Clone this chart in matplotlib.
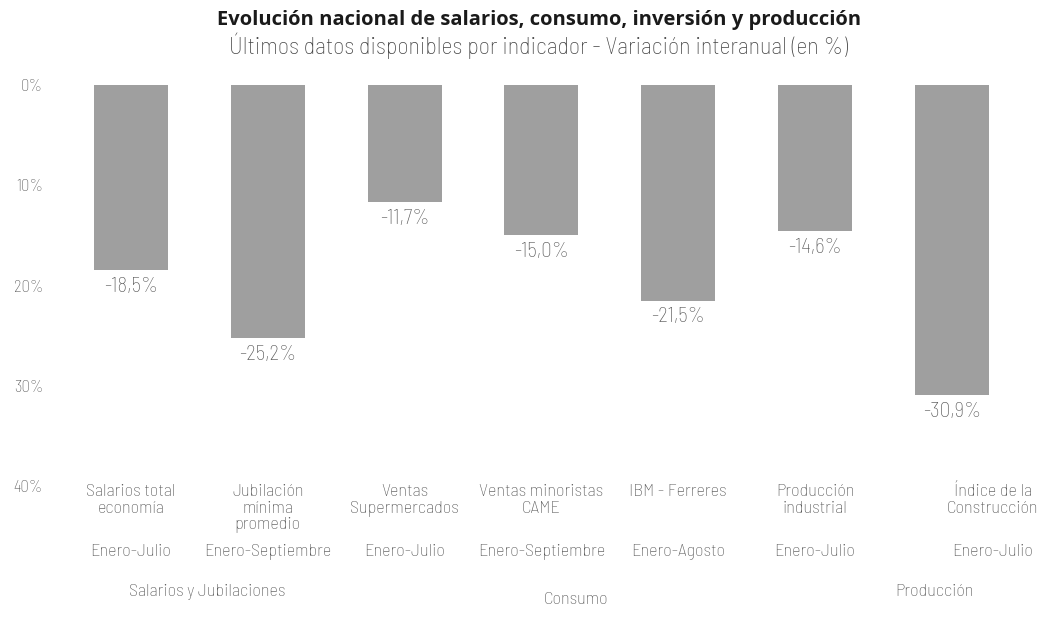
import matplotlib
matplotlib.use("Agg")
import matplotlib.pyplot as plt
from matplotlib.transforms import blended_transform_factory
from matplotlib import font_manager

# 数据
categorias = [
    "Salarios total\neconomía",
    "Jubilación\nmínima\npromedio",
    "Ventas\nSupermercados",
    "Ventas minoristas\nCAME",
    "IBM - Ferreres",
    "Producción\nindustrial",
    "Índice de la\nConstrucción",
]
periodos = [
    "Enero-Julio",
    "Enero-Septiembre",
    "Enero-Julio",
    "Enero-Septiembre",
    "Enero-Agosto",
    "Enero-Julio",
    "Enero-Julio",
]
variacion = [-18.5, -25.2, -11.7, -15.0, -21.5, -14.6, -30.9]
grupos = ["Salarios y Jubilaciones", "Consumo", "Producción"]
y_ticks = [0, -10, -20, -30, -40]
y_tick_labels = ["0%", "10%", "20%", "30%", "40%"]

TITULO = "Evolución nacional de salarios, consumo, inversión y producción"
SUBTITULO = "Últimos datos disponibles por indicador - Variación interanual (en %)"

# 字体：标签用半窄体，标题用人文无衬线
available = {f.name for f in font_manager.fontManager.ttflist}
fam = next((n for n in ["Barlow Semi Condensed", "Asap Condensed", "Liberation Sans"]
            if n in available), "DejaVu Sans")
fam_title = "Open Sans" if "Open Sans" in available else fam
plt.rcParams["font.family"] = [fam, "DejaVu Sans"]
TXT = "#555555"

W, H = 1058, 623
fig = plt.figure(figsize=(W / 100, H / 100), dpi=100)
renderer = fig.canvas.get_renderer()


# 按目标像素宽度反推字号
def fit_size(text, target_px, weight="normal", family=None, base=10.0):
    t = fig.text(0, 0, text, fontsize=base, fontweight=weight,
                 family=family or [fam, "DejaVu Sans"])
    w = t.get_window_extent(renderer).width
    t.remove()
    return base * target_px / w


fs_title = fit_size(TITULO, 642, "bold", [fam_title, "DejaVu Sans"])
fs_sub = fit_size(SUBTITULO, 620, "light")
fs_val = fit_size("-18,5%", 54, "light")
fs_cat = fit_size("Salarios total", 90, "light")

ax = fig.add_axes([62.6 / W, (H - 486) / H, 957.6 / W, 401 / H])

x = list(range(len(variacion)))
ax.bar(x, variacion, width=0.54, color="#9f9f9f", edgecolor="none")
ax.set_xlim(-0.5, len(variacion) - 0.5)
ax.set_ylim(-40, 0)

for spine in ax.spines.values():
    spine.set_visible(False)
ax.set_xticks([])
ax.set_yticks(y_ticks)
ax.set_yticklabels(y_tick_labels, fontsize=12, color=TXT, fontweight="light")
ax.tick_params(axis="y", length=0, pad=14)

# 柱下数值标签
for xi, v in zip(x, variacion):
    ax.annotate(
        f"{v:.1f}%".replace(".", ","),
        (xi, v), xytext=(0, -5), textcoords="offset points",
        ha="center", va="top", fontsize=fs_val, color=TXT, fontweight="light",
    )

# 类别标签略有水平偏移（最后一列在原图中靠右）
label_dx = [0, 0, 0, 0, 0, 0, 0.3]
trans = blended_transform_factory(ax.transData, fig.transFigure)
for xi, dx, cat, per in zip(x, label_dx, categorias, periodos):
    ax.text(xi + dx, 1 - 484 / H, cat, transform=trans, ha="center", va="top",
            fontsize=fs_cat, color=TXT, linespacing=1.05, fontweight="light")
    ax.text(xi + dx, 1 - 552 / H, per, transform=trans, ha="center", va="center",
            fontsize=fs_cat, color=TXT, fontweight="light")

# 分组标签位置
grupo_x = [0.56, 3.25, 5.87]
grupo_y = [592, 600, 592]
for gx, gy, g in zip(grupo_x, grupo_y, grupos):
    ax.text(gx, 1 - gy / H, g, transform=trans, ha="center", va="center",
            fontsize=fs_cat, color=TXT, fontweight="light")

fig.text(539 / W, 1 - 20 / H, TITULO, ha="center", va="center",
         fontsize=fs_title, fontweight="bold", color="#1a1a1a",
         family=[fam_title, "DejaVu Sans"])
fig.text(538 / W, 1 - 46 / H, SUBTITULO, ha="center", va="center",
         fontsize=fs_sub, color="#444444", fontweight="light")

fig.savefig("out.png", dpi=100, facecolor="white")
